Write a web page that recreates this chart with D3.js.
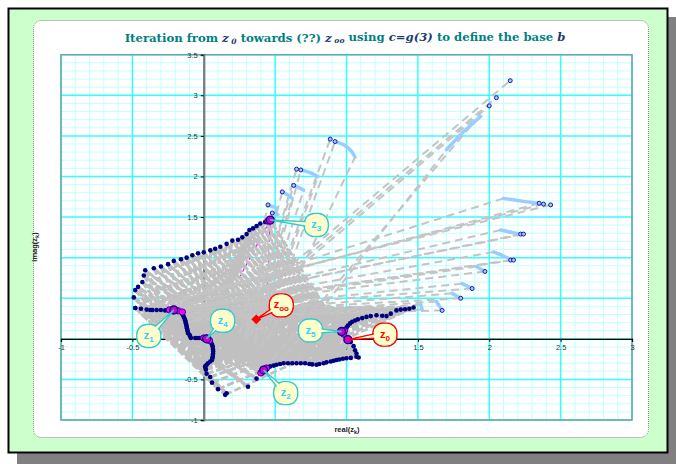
<!DOCTYPE html>
<html><head><meta charset="utf-8">
<script src="https://cdn.jsdelivr.net/npm/d3@7"></script>
<style>body{margin:0;background:#fff}svg{display:block}</style>
</head><body><svg id="chart" width="676" height="464"></svg>
<script>
// ---- data: complex iterates z_k = (real, imag) ----
const xTicks = [-1, -0.5, 0, 0.5, 1, 1.5, 2, 2.5, 3];
const yTicks = [-1, -0.5, 0.5, 1, 1.5, 2, 2.5, 3, 3.5];

// starting curve around z0 (k = 0)
const curveK0 = [[1.085,-0.23],[1.07,-0.18],[1.06,-0.14],[1.05,-0.09],[1.03,-0.04],[1.01,-0.01],[1.0,0.0],[0.995,0.02],[0.99,0.04],[0.985,0.06],[0.98,0.085],[0.99,0.11],[1.0,0.14],[1.01,0.165],[1.025,0.19],[1.04,0.21],[1.06,0.225],[1.08,0.24],[1.11,0.255],[1.14,0.27],[1.17,0.28],[1.21,0.29],[1.25,0.285],[1.28,0.28],[1.31,0.31],[1.35,0.35],[1.38,0.36],[1.41,0.365],[1.44,0.37],[1.47,0.385]];
// first iterate (k = 1)
const curveK1 = [[-0.09,0.01],[-0.095,0.03],[-0.10,0.05],[-0.11,0.07],[-0.112,0.09],[-0.115,0.11],[-0.118,0.13],[-0.12,0.15],[-0.122,0.17],[-0.125,0.19],[-0.128,0.21],[-0.13,0.23],[-0.135,0.25],[-0.14,0.27],[-0.145,0.29],[-0.15,0.31],[-0.16,0.325],[-0.17,0.34],[-0.19,0.35],[-0.21,0.355],[-0.23,0.357],[-0.25,0.355],[-0.27,0.35],[-0.30,0.355],[-0.33,0.355],[-0.36,0.355],[-0.375,0.355],[-0.40,0.36],[-0.44,0.37],[-0.48,0.38]];
// second iterate (k = 2)
const curveK2 = [[1.07,-0.22],[1.03,-0.235],[1.0,-0.24],[0.975,-0.245],[0.95,-0.255],[0.93,-0.26],[0.91,-0.27],[0.89,-0.28],[0.86,-0.29],[0.84,-0.30],[0.81,-0.31],[0.79,-0.32],[0.76,-0.315],[0.74,-0.31],[0.71,-0.30],[0.68,-0.30],[0.65,-0.30],[0.62,-0.30],[0.59,-0.30],[0.56,-0.30],[0.535,-0.31],[0.51,-0.32],[0.49,-0.33],[0.466,-0.34],[0.44,-0.36],[0.42,-0.385],[0.40,-0.42],[0.37,-0.49],[0.31,-0.59],[0.16,-0.67]];
// third iterate (k = 3)
const curveK3 = [[0.466,1.463],[0.43,1.44],[0.396,1.42],[0.37,1.39],[0.345,1.36],[0.32,1.34],[0.30,1.29],[0.27,1.25],[0.24,1.22],[0.2,1.21],[0.16,1.17],[0.116,1.134],[0.08,1.11],[0.046,1.09],[0.0,1.065],[-0.04,1.055],[-0.08,1.03],[-0.12,1.0],[-0.16,0.98],[-0.21,0.96],[-0.25,0.92],[-0.3,0.89],[-0.35,0.87],[-0.41,0.845],[-0.42,0.78],[-0.43,0.7],[-0.46,0.64],[-0.48,0.6],[-0.49,0.51],[-0.48,0.38]];
// fourth iterate (k = 4)
const curveK4 = [[-0.06,0.01],[-0.045,0.01],[-0.03,0.01],[-0.015,0.01],[0.0,0.01],[0.02,0.0],[0.035,-0.01],[0.045,-0.025],[0.05,-0.04],[0.055,-0.06],[0.06,-0.08],[0.063,-0.10],[0.065,-0.13],[0.066,-0.155],[0.065,-0.18],[0.064,-0.20],[0.063,-0.22],[0.06,-0.24],[0.058,-0.26],[0.045,-0.28],[0.03,-0.3],[0.02,-0.32],[0.01,-0.34],[0.012,-0.36],[0.015,-0.38],[0.02,-0.43],[0.045,-0.47],[0.058,-0.54],[0.1,-0.62],[0.15,-0.69]];

// far iterates: short light-blue tracks and their end points
const farTracks = [
  [[0.92,2.43],[0.98,2.39],[1.03,2.32],[1.06,2.24]],
  [[0.68,2.08],[0.74,2.05],[0.80,2.0]],
  [[0.63,1.89],[0.67,1.86],[0.7,1.83]],
  [[0.55,1.81],[0.59,1.77],[0.62,1.73]],
  [[0.45,1.65],[0.48,1.63],[0.51,1.61]],
  [[0.48,1.55],[0.52,1.53]],
  [[1.94,2.74],[1.82,2.55],[1.70,2.33]],
  [[2.10,1.73],[2.25,1.69],[2.35,1.67]],
  [[2.08,1.34],[2.16,1.31],[2.22,1.29]],
  [[2.03,1.07],[2.10,1.02],[2.16,0.97]],
  [[1.91,0.89],[1.97,0.83]],
  [[1.81,0.68],[1.88,0.62]],
  [[1.74,0.56],[1.80,0.50]],
  [[1.63,0.46],[1.67,0.35]],
  [[1.52,0.42],[1.53,0.36]]
];
const farDots = [[0.886,2.46],[0.92,2.43],[0.65,2.09],[0.68,2.08],[0.63,1.89],[0.55,1.81],[0.45,1.65],[0.48,1.55],
  [2.147,3.18],[2.05,2.97],[2.0,2.87],[2.35,1.67],[2.38,1.66],[2.43,1.65],[2.22,1.29],[2.24,1.29],
  [2.15,0.97],[2.17,0.97],[1.97,0.83],[1.88,0.62],[1.80,0.50],[1.67,0.35]];

// long steps out to the far iterates: [from, to]
const farSteps = [
  [[0.36,-0.05],[0.886,2.46]],[[0.40,-0.10],[0.92,2.43]],[[0.45,0.0],[1.06,2.24]],
  [[0.30,-0.02],[0.65,2.09]],[[0.35,-0.08],[0.68,2.08]],[[0.40,0.05],[0.80,2.0]],
  [[0.30,0.05],[0.63,1.89]],[[0.36,0.0],[0.7,1.83]],[[0.28,0.0],[0.55,1.81]],
  [[0.33,0.05],[0.62,1.73]],[[0.25,0.05],[0.45,1.65]],[[0.30,0.10],[0.51,1.61]],[[0.30,0.20],[0.48,1.55]],
  [[0.0,0.0],[2.147,3.18]],[[0.02,-0.02],[2.05,2.97]],[[0.04,-0.05],[2.0,2.87]],
  [[0.42,-0.38],[1.88,2.64]],[[0.52,-0.32],[1.70,2.33]],
  [[2.43,1.65],[-0.48,0.38]],[[2.38,1.66],[-0.44,0.37]],[[2.35,1.67],[-0.40,0.36]],[[2.10,1.73],[-0.375,0.355]],
  [[2.24,1.29],[-0.36,0.355]],[[2.22,1.29],[-0.33,0.355]],[[2.08,1.34],[-0.30,0.355]],
  [[2.17,0.97],[-0.27,0.35]],[[2.15,0.97],[-0.25,0.355]],[[2.03,1.07],[-0.23,0.357]],
  [[1.97,0.83],[-0.21,0.355]],[[1.91,0.89],[-0.19,0.35]],
  [[1.88,0.62],[-0.17,0.34]],[[1.81,0.68],[-0.16,0.325]],
  [[1.80,0.50],[-0.15,0.31]],[[1.74,0.56],[-0.145,0.29]],
  [[1.67,0.35],[-0.14,0.27]],[[1.63,0.46],[-0.135,0.25]],
  [[1.53,0.36],[-0.13,0.23]],[[1.52,0.42],[-0.128,0.21]]
];

// the highlighted orbit z0 .. z5 and the fixed point z_oo
const orbit = [
  {name:"0", z:[1.01,-0.01]},
  {name:"1", z:[-0.21,0.355]},
  {name:"2", z:[0.42,-0.385]},
  {name:"3", z:[0.466,1.463]},
  {name:"4", z:[0.02,0.0]},
  {name:"5", z:[0.965,0.09]}
];
const zFix = [0.368,0.24];
// neighbouring orbit points drawn in the same highlight
const orbitNeighbours = [[-0.24,0.357],[-0.18,0.345],[-0.15,0.33],[0.44,-0.36],[0.40,-0.42],[0.45,1.45],[0.0,0.01],[0.04,-0.02],[0.98,0.06],[0.985,0.1]];

// ---- layout ----
const svg = d3.select("#chart");
const x = d3.scaleLinear().domain([-1, 3]).range([61, 632]);
const y = d3.scaleLinear().domain([-1, 3.5]).range([420, 54.7]);
const P = p => [x(p[0]), y(p[1])];

// frame, shadow and panel
svg.append("rect").attr("x",17).attr("y",17).attr("width",659).attr("height",447).attr("fill","#808080");
svg.append("rect").attr("x",8.5).attr("y",8.5).attr("width",659).attr("height",444)
  .attr("fill","#ccffcc").attr("stroke","#000").attr("stroke-width",2);
svg.append("rect").attr("x",33.5).attr("y",20.5).attr("width",615).attr("height",417).attr("rx",8)
  .attr("fill","#fff").attr("stroke","#8a8a8a").attr("stroke-dasharray","1,1");

// grid
const grid = svg.append("g");
const xs = d3.range(-10, 31), ys = d3.range(-10, 36);
grid.selectAll(".vx").data(xs.filter(i => i % 5)).join("line")
  .attr("x1", i => x(i/10)).attr("x2", i => x(i/10)).attr("y1", y(-1)).attr("y2", y(3.5))
  .attr("stroke", "#c4ffff").attr("stroke-width", 1);
grid.selectAll(".hy").data(ys.filter(i => i % 5)).join("line")
  .attr("y1", i => y(i/10)).attr("y2", i => y(i/10)).attr("x1", x(-1)).attr("x2", x(3))
  .attr("stroke", "#c4ffff").attr("stroke-width", 1);
grid.selectAll(".vX").data(xs.filter(i => i % 5 === 0)).join("line")
  .attr("x1", i => x(i/10)).attr("x2", i => x(i/10)).attr("y1", y(-1)).attr("y2", y(3.5))
  .attr("stroke", "#33ffff").attr("stroke-width", 1.5);
grid.selectAll(".hY").data(ys.filter(i => i % 5 === 0)).join("line")
  .attr("y1", i => y(i/10)).attr("y2", i => y(i/10)).attr("x1", x(-1)).attr("x2", x(3))
  .attr("stroke", "#33ffff").attr("stroke-width", 1.5);
svg.append("rect").attr("x", x(-1)).attr("y", y(3.5)).attr("width", x(3)-x(-1)).attr("height", y(-1)-y(3.5))
  .attr("fill","none").attr("stroke","#6fa5a5").attr("stroke-width",1.5);

// axes through the origin
const ax = svg.append("g").attr("transform", `translate(0,${y(0)})`)
  .call(d3.axisBottom(x).tickValues(xTicks).tickSize(3).tickPadding(3).tickFormat(d => String(d)));
ax.select(".domain").attr("stroke","#000").attr("stroke-width",1.3);
ax.selectAll(".tick line").attr("stroke","#000");
ax.selectAll("text").attr("font-family","Liberation Sans, Arial").attr("font-size",7.5).attr("fill","#333");
const ay = svg.append("g").attr("transform", `translate(${x(0)},0)`)
  .call(d3.axisLeft(y).tickValues(yTicks).tickSize(3).tickPadding(3).tickFormat(d => String(d)));
ay.select(".domain").attr("stroke","#7a7a7a").attr("stroke-width",2.2);
ay.selectAll(".tick line").attr("stroke","#000");
ay.selectAll("text").attr("font-family","Liberation Sans, Arial").attr("font-size",7.5).attr("fill","#333");

// orbit trace underneath the steps
svg.append("path").attr("d", d3.line()(orbit.map(o => P(o.z)).concat([P(zFix)])))
  .attr("fill","none").attr("stroke","#ff00ff").attr("stroke-width",1.2).attr("stroke-dasharray","4,3");

// dashed steps z_k -> z_{k+1}: each point to its image and to its neighbours' images
const curves = [curveK0, curveK1, curveK2, curveK3, curveK4, curveK0];
const steps = [];
for (let k = 0; k < curves.length - 1; k++) {
  const a = curves[k], b = curves[k+1];
  for (let i = 0; i < a.length; i++) {
    steps.push([a[i], b[i]]);
    if (i + 1 < b.length) steps.push([a[i], b[i+1]]);
    if (i > 0 && k < 4) steps.push([a[i], b[i-1]]);
  }
}
svg.append("g").selectAll("line").data(steps).join("line")
  .attr("x1", d => x(d[0][0])).attr("y1", d => y(d[0][1]))
  .attr("x2", d => x(d[1][0])).attr("y2", d => y(d[1][1]))
  .attr("stroke","#c0c0c0").attr("stroke-width",2.7).attr("stroke-dasharray","7,3");
svg.append("g").selectAll("line").data(farSteps).join("line")
  .attr("x1", d => x(d[0][0])).attr("y1", d => y(d[0][1]))
  .attr("x2", d => x(d[1][0])).attr("y2", d => y(d[1][1]))
  .attr("stroke","#c4c4c4").attr("stroke-width",2).attr("stroke-dasharray","8,5");

// far tracks
svg.append("g").selectAll("path").data(farTracks).join("path")
  .attr("d", d => d3.line().curve(d3.curveCatmullRom)(d.map(P)))
  .attr("fill","none").attr("stroke","#99ccff").attr("stroke-width",3.5).attr("stroke-linecap","round");

// iterate dots
const dots = [curveK0, curveK1, curveK2, curveK3, curveK4].flat();
svg.append("g").selectAll("circle").data(dots).join("circle")
  .attr("cx", d => x(d[0])).attr("cy", d => y(d[1])).attr("r", 2.3).attr("fill","#000080");
svg.append("g").selectAll("circle").data(farDots).join("circle")
  .attr("cx", d => x(d[0])).attr("cy", d => y(d[1])).attr("r", 2)
  .attr("fill","#99ccff").attr("stroke","#1a1a9a").attr("stroke-width",1);

// highlighted orbit points
svg.append("g").selectAll("circle").data(orbitNeighbours).join("circle")
  .attr("cx", d => x(d[0])).attr("cy", d => y(d[1])).attr("r", 3.2)
  .attr("fill","#ff00ff").attr("stroke","#000080").attr("stroke-width",0.8);
svg.append("g").selectAll("circle").data(orbit).join("circle")
  .attr("cx", d => x(d.z[0])).attr("cy", d => y(d.z[1])).attr("r", 4)
  .attr("fill","#cc00cc").attr("stroke","#000080").attr("stroke-width",1.3);
svg.append("rect").attr("x", x(zFix[0]) - 3.5).attr("y", y(zFix[1]) - 3.5).attr("width",7).attr("height",7)
  .attr("fill","#ff0000").attr("transform", `rotate(45 ${x(zFix[0])} ${y(zFix[1])})`);

// callouts
const calloutOffsets = {"0":[37,-5], "1":[-25,26], "2":[22,23], "3":[46,5], "4":[16,-18], "5":[-31,-1], "oo":[25,-14]};
const callouts = orbit.map(o => ({sub:o.name, z:o.z, red:o.name === "0"})).concat([{sub:"oo", z:zFix, red:true}]);
const cg = svg.append("g");
callouts.forEach(c => {
  const [tx, ty] = P(c.z);
  const [dx, dy] = calloutOffsets[c.sub];
  const cx = tx + dx, cy = ty + dy, w = 24, h = 23;
  const stroke = c.red ? "#ff0000" : "#33cccc";
  const ang = Math.atan2(ty - cy, tx - cx), nx = -Math.sin(ang) * 3, ny = Math.cos(ang) * 3;
  const g = cg.append("g");
  g.append("rect").attr("x", cx - w/2).attr("y", cy - h/2).attr("width", w).attr("height", h).attr("rx", 10)
    .attr("fill","#ffffcc").attr("stroke",stroke).attr("stroke-width",1.4);
  g.append("path").attr("d", `M${cx+nx},${cy+ny}L${tx},${ty}L${cx-nx},${cy-ny}Z`)
    .attr("fill","#ffffcc").attr("stroke",stroke).attr("stroke-width",1.4);
  g.append("rect").attr("x", cx - w/2 + 1).attr("y", cy - h/2 + 1).attr("width", w - 2).attr("height", h - 2).attr("rx", 9)
    .attr("fill","#ffffcc");
  const t = g.append("text").attr("x", cx).attr("y", cy + 3).attr("text-anchor","middle")
    .attr("font-family","Liberation Sans, Arial").attr("font-weight","bold").attr("font-size",11)
    .attr("fill", c.red ? "#ff0000" : "#33ccff");
  t.append("tspan").text("z");
  t.append("tspan").attr("dy",3).attr("font-size",8).text(c.sub);
});

// title, fitted to its line width
const title = svg.append("text").attr("x", 345).attr("y", 42).attr("text-anchor","middle")
  .attr("font-family","DejaVu Serif, serif").attr("font-weight","bold").attr("font-size",12).attr("fill","#008080");
title.append("tspan").text("Iteration from ");
title.append("tspan").attr("font-style","italic").attr("fill","#1a3c6e").text("z");
title.append("tspan").attr("font-style","italic").attr("fill","#1a3c6e").attr("font-size","0.65em").attr("dy","0.25em").text(" 0");
title.append("tspan").attr("dy","-0.2em").text(" towards (??) ");
title.append("tspan").attr("font-style","italic").attr("fill","#1a3c6e").text("z");
title.append("tspan").attr("font-style","italic").attr("fill","#1a3c6e").attr("font-size","0.65em").attr("dy","0.25em").text(" oo");
title.append("tspan").attr("dy","-0.2em").text(" using ");
title.append("tspan").attr("font-style","italic").attr("fill","#1a3c6e").text("c=g(3)");
title.append("tspan").text(" to define the base ");
title.append("tspan").attr("font-style","italic").attr("fill","#1a3c6e").text("b");
const tw = title.node().getComputedTextLength();
title.attr("font-size", 12 * 441 / tw);

// axis titles
const xt = svg.append("text").attr("x", 347).attr("y", 432).attr("text-anchor","middle")
  .attr("font-family","Liberation Sans, Arial").attr("font-weight","bold").attr("font-size",7.5).attr("fill","#222");
xt.append("tspan").text("real(z");
xt.append("tspan").attr("font-size",5.5).attr("dy",1.5).text("k");
xt.append("tspan").attr("dy",-1.5).text(")");
const yt = svg.append("text").attr("transform","translate(37,247) rotate(-90)").attr("text-anchor","middle")
  .attr("font-family","Liberation Sans, Arial").attr("font-weight","bold").attr("font-size",7.5).attr("fill","#222");
yt.append("tspan").text("imag(z");
yt.append("tspan").attr("font-size",5.5).attr("dy",1.5).text("k");
yt.append("tspan").attr("dy",-1.5).text(")");
</script></body></html>
